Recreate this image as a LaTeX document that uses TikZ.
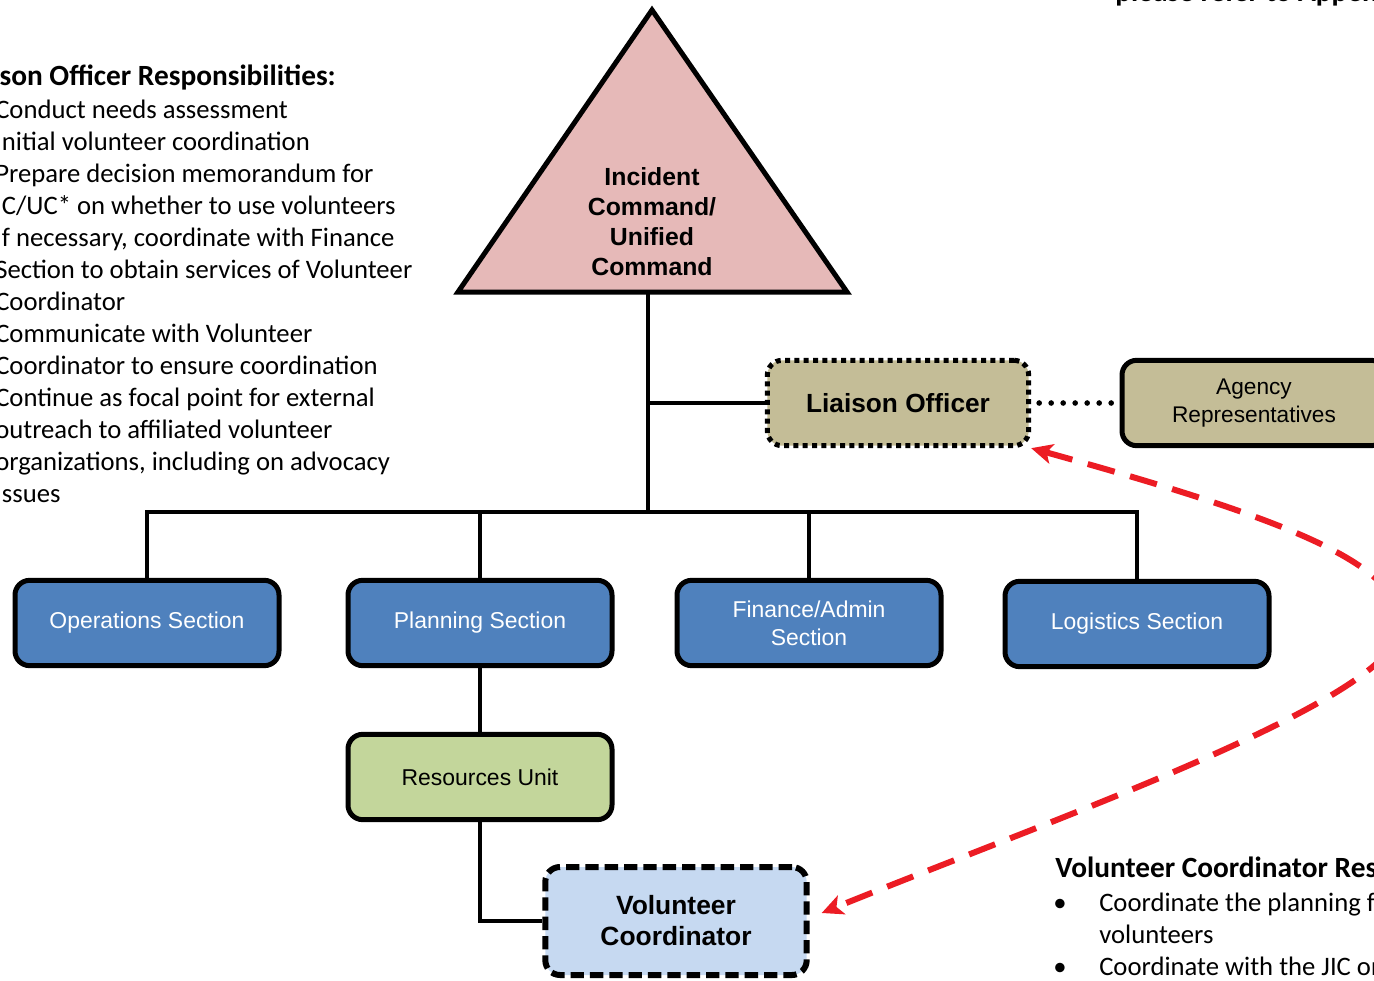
\documentclass[tikz,border=0pt]{standalone}
\usepackage{fontspec}
\setmainfont{Liberation Sans}
\newfontfamily\calfont{Carlito}
\usetikzlibrary{arrows.meta}

\definecolor{cmdpink}{HTML}{E6B9B8}
\definecolor{khaki}{HTML}{C4BD97}
\definecolor{secblue}{HTML}{4F81BD}
\definecolor{resgreen}{HTML}{C3D69B}
\definecolor{vcblue}{HTML}{C6D9F1}
\definecolor{linkred}{HTML}{EC1C24}

\tikzset{
  conn/.style={line width=3pt},
  box/.style={draw, line width=3.75pt, rounded corners=11pt, align=center,
    minimum width=198pt, minimum height=64pt, inner sep=2pt},
  section/.style={box, fill=secblue, text=white,
    font=\fontsize{17.2}{21}\selectfont},
  resunit/.style={box, fill=resgreen, font=\fontsize{17.2}{21}\selectfont},
  liaison/.style={box, fill=khaki, minimum width=196pt,
    dash pattern=on 3.75pt off 3.25pt, font=\bfseries\fontsize{19.7}{23}\selectfont},
  agency/.style={box, fill=khaki, font=\fontsize{17}{21}\selectfont},
  volcoord/.style={box, fill=vcblue, minimum width=196pt, minimum height=81pt,
    line width=4.5pt, dash pattern=on 10pt off 4.5pt,
    font=\bfseries\fontsize{19.8}{23.25}\selectfont},
  cmdtext/.style={align=center, font=\bfseries\fontsize{18.6}{22.5}\selectfont},
  dotconn/.style={line width=4.2pt, line cap=round, dash pattern=on 0pt off 9pt},
  redlink/.style={linkred, line width=4.5pt, dash pattern=on 21pt off 12pt,
    {Stealth[length=16pt,width=15pt,inset=4pt]}-{Stealth[length=16pt,width=15pt,inset=4pt]}},
  resptext/.style={anchor=base west, inner sep=0pt,
    font=\calfont\fontsize{20}{24}\selectfont},
  resphead/.style={resptext, font=\calfont\bfseries\fontsize{22}{26}\selectfont}
}

\begin{document}
\begin{tikzpicture}[x=0.75pt, y=-0.75pt]

\useasboundingbox (0,0) rectangle (1374,981);
\clip (0,0) rectangle (1374,981);

% command triangle
\coordinate (apex) at (652,10);
\coordinate (bl) at (458,292);
\coordinate (br) at (847,292);
\draw[fill=cmdpink, line width=3.75pt] (apex) -- (br) -- (bl) -- cycle;
\node[cmdtext] (ic) at (652,222) {Incident\\Command/\\Unified\\Command};
\coordinate (icb) at (648,292);
\coordinate (bar) at (648,512);

% staff
\node[liaison] (lo) at (898,403) {Liaison Officer};
\node[agency] (ar) at (1254,403) {Agency\\Representatives};

% general staff
\node[section] (ops) at (147,623) {Operations Section};
\node[section] (plan) at (480,623) {Planning Section};
\node[section] (fin) at (809,623) {Finance/Admin\\Section};
\node[section] (log) at (1137,624) {Logistics Section};
\node[resunit] (res) at (480,777) {Resources Unit};
\node[volcoord] (vc) at (676,921) {Volunteer\\Coordinator};

% connectors
\draw[conn] (icb) -- (bar);
\draw[conn] (lo.west) -- (lo.west -| icb);
\foreach \s in {ops,plan,fin,log}
  \draw[conn] (\s.north) |- (bar);
\draw[conn] (plan.south) -- (res.north);
\draw[conn] (res.south) |- (vc.west);
\draw[dotconn] ([xshift=6pt]lo.east) -- (ar.west);
\draw[redlink] (lo.south east) .. controls (1290,520) and (1405,565) .. (1400,628)
  .. controls (1396,700) and (1050,820) .. ([shift={(12,-8)}]vc.east);

% responsibilities
\node[resphead] (lohead) at (-42,86) {Liaison Officer Responsibilities:};
\foreach \t [count=\i from 0] in {Conduct needs assessment,
    Initial volunteer coordination, Prepare decision memorandum for,
    IC/UC* on whether to use volunteers, {If necessary, coordinate with Finance},
    Section to obtain services of Volunteer, Coordinator,
    Communicate with Volunteer, Coordinator to ensure coordination,
    Continue as focal point for external, outreach to affiliated volunteer,
    {organizations, including on advocacy}, Issues}
  \node[resptext] (lor\i) at (-5,118+32*\i) {\t};

\node[resphead] (vchead) at (1055,877) {Volunteer Coordinator Responsibilities:};
\node[resptext] (vcb1) at (1053,911) {•};
\node[resptext] (vcr1) at (1099,911) {Coordinate the planning for};
\node[resptext] (vcr2) at (1099,943) {volunteers};
\node[resptext] (vcb2) at (1053,975) {•};
\node[resptext] (vcr3) at (1099,975) {Coordinate with the JIC or};

\node[resphead] (note) at (1115,2) {please refer to Appendix};

\end{tikzpicture}
\end{document}
